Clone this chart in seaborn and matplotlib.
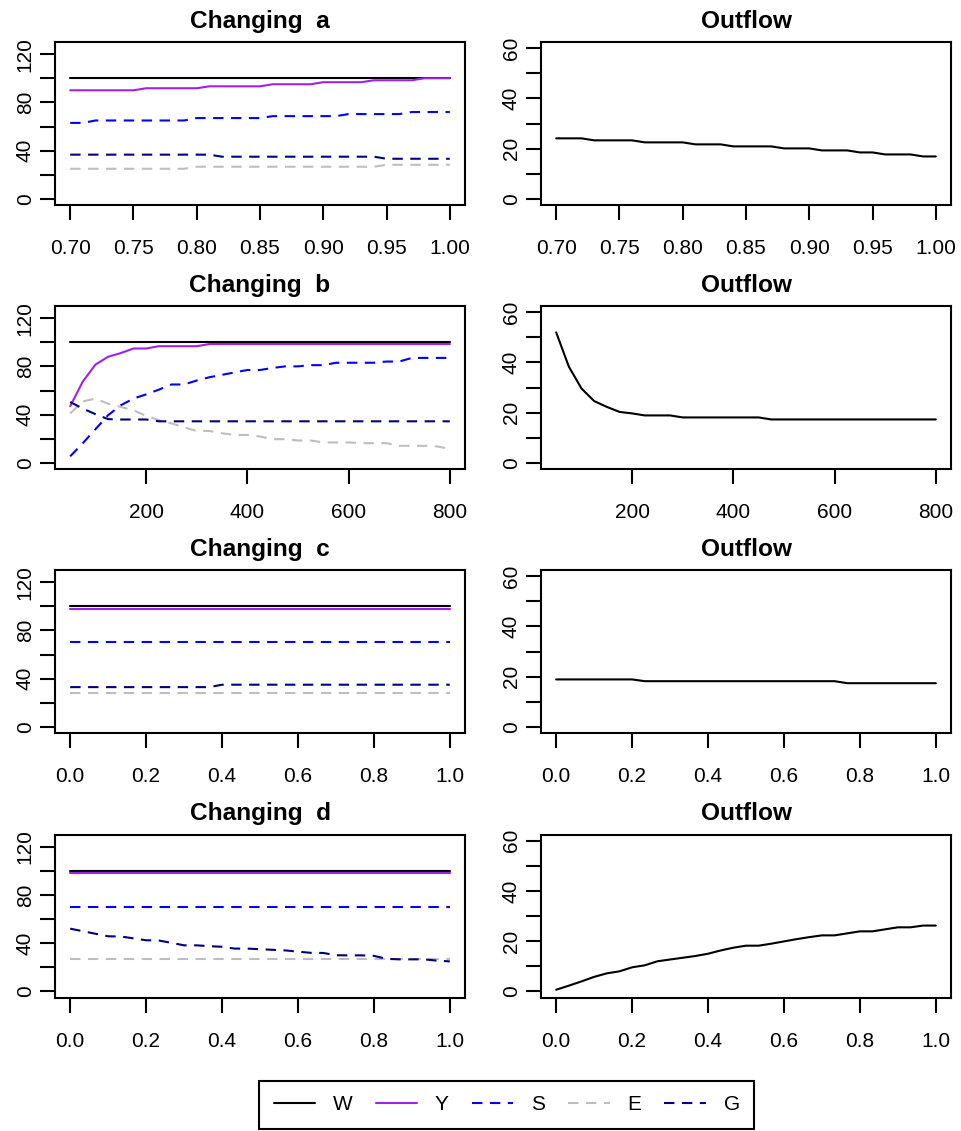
import numpy as np
import matplotlib
matplotlib.use("Agg")
import matplotlib.pyplot as plt
from matplotlib.lines import Line2D
import seaborn as sns

sns.set_style("ticks")
plt.rcParams['font.family'] = ['Liberation Sans', 'DejaVu Sans']
plt.rcParams['text.color'] = 'black'
plt.rcParams['axes.labelcolor'] = 'black'
plt.rcParams['axes.titlecolor'] = 'black'
plt.rcParams['xtick.color'] = 'black'
plt.rcParams['ytick.color'] = 'black'
plt.rcParams['axes.edgecolor'] = 'black'

# ---------------- data ----------------
series_names = ["W", "Y", "S", "E", "G"]
series_colors = ["#000000", "#A020F0", "#0000FF", "#BEBEBE", "#000080"]
series_dashed = [False, False, True, True, True]

panel_titles = ["Changing  a", "Changing  b", "Changing  c", "Changing  d"]
outflow_title = "Outflow"

x_a = [0.70, 0.71, 0.72, 0.73, 0.74, 0.75, 0.76, 0.77, 0.78, 0.79, 0.80,
       0.81, 0.82, 0.83, 0.84, 0.85, 0.86, 0.87, 0.88, 0.89, 0.90,
       0.91, 0.92, 0.93, 0.94, 0.95, 0.96, 0.97, 0.98, 0.99, 1.00]
x_b = [50, 75, 100, 125, 150, 175, 200, 225, 250, 275, 300, 325, 350, 375, 400,
       425, 450, 475, 500, 525, 550, 575, 600, 625, 650, 675, 700, 725, 750, 775, 800]
x_c = np.linspace(0.0, 1.0, 31)
x_d = np.linspace(0.0, 1.0, 31)

# Changing a
W_a = [100] * 31
Y_a = [90] * 6 + [91.7] * 5 + [93.3] * 5 + [95] * 4 + [96.7] * 4 + [98.3] * 4 + [100] * 3
S_a = [63] * 2 + [65] * 8 + [67] * 6 + [68.6] * 6 + [70.3] * 5 + [72] * 4
E_a = [25] * 10 + [26.7] * 15 + [28.3] * 6
G_a = [36.7] * 12 + [35] * 13 + [33.3] * 6
O_a = [24.1] * 3 + [23.3] * 4 + [22.5] * 4 + [21.7] * 3 + [20.9] * 4 + [20.1] * 3 + \
      [19.3] * 3 + [18.5] * 2 + [17.7] * 3 + [16.9] * 2

# Changing b
W_b = [100] * 31
Y_b = [47, 67.5, 81.5, 88, 91, 94.8, 94.8, 96.7, 96.7, 96.7, 96.7] + [98.5] * 20
S_b = [5.5, 16.4, 28, 39.6, 47.8, 53.3, 56.8, 60.7, 65, 65, 68.3, 71, 73, 75, 77, 77,
       78.7, 80, 80, 81, 81, 83, 83, 83, 83, 84, 84, 87, 87, 87, 87]
E_b = [41, 51, 53.3, 49, 46.4, 43.7, 39, 35.5, 32.8, 29.5, 26.5, 26.5, 24.6, 23.2, 23.2,
       21.9, 19.7, 19.7, 18.6, 18.6, 17, 17, 17, 16.4, 16.4, 16.4, 14.2, 14.2, 14.2, 13.7, 11.7]
G_b = [50.5, 45, 40.4, 36.3, 36, 36, 36] + [34.5] * 24
O_b = [51.9, 38.3, 29.6, 24.6, 22.3, 20.3, 19.7, 18.9, 18.9, 18.9] + [18.1] * 7 + [17.3] * 14

# Changing c
W_c = [100] * 31
Y_c = [97.5] * 31
S_c = [70] * 31
E_c = [28] * 31
G_c = [33] * 12 + [35] * 19
O_c = [18.9] * 7 + [18.2] * 16 + [17.4] * 8

# Changing d
W_d = [100] * 31
Y_d = [98.3] * 31
S_d = [70] * 31
E_d = [26.6] * 31
G_d = [52, 49.9, 47.8, 45.7, 45.5, 44, 42.4, 42.2, 40.3, 38.2, 38.2, 37.5, 37, 35.5, 35.5,
       35, 34.5, 34, 33, 32, 31.9, 30, 29.9, 29.9, 29.5, 27, 26.6, 26.6, 26.6, 25.5, 24.9]
O_d = [0.7, 2.3, 4, 5.8, 7.2, 8, 9.6, 10.4, 12, 12.7, 13.4, 14.1, 15, 16.3, 17.4, 18.2,
       18.2, 19, 19.9, 20.8, 21.6, 22.3, 22.3, 23.1, 23.9, 23.9, 24.7, 25.5, 25.5, 26.2, 26.2]

panels = [
    (x_a, [W_a, Y_a, S_a, E_a, G_a], O_a),
    (x_b, [W_b, Y_b, S_b, E_b, G_b], O_b),
    (x_c, [W_c, Y_c, S_c, E_c, G_c], O_c),
    (x_d, [W_d, Y_d, S_d, E_d, G_d], O_d),
]

x_ticks = [[0.70, 0.75, 0.80, 0.85, 0.90, 0.95, 1.00],
           [200, 400, 600, 800],
           [0.0, 0.2, 0.4, 0.6, 0.8, 1.0],
           [0.0, 0.2, 0.4, 0.6, 0.8, 1.0]]
x_ticklabels = [["0.70", "0.75", "0.80", "0.85", "0.90", "0.95", "1.00"],
                ["200", "400", "600", "800"],
                ["0.0", "0.2", "0.4", "0.6", "0.8", "1.0"],
                ["0.0", "0.2", "0.4", "0.6", "0.8", "1.0"]]
x_lims = [(0.688, 1.012), (20, 830), (-0.04, 1.04), (-0.04, 1.04)]

left_yticks = [0, 20, 40, 60, 80, 100, 120]
left_ylabels = ["0", "", "40", "", "80", "", "120"]
right_yticks = [0, 10, 20, 30, 40, 50, 60]
right_ylabels = ["0", "", "20", "", "40", "", "60"]

# ---------------- layout ----------------
FW, FH = 962, 1131
fig = plt.figure(figsize=(FW / 100, FH / 100), dpi=100)

LW = 1.5
DASH = (0, (5.0, 3.6))
TICK_FS = 15
TITLE_FS = 17.6
row_tops = [42, 306, 570, 834.5]
AX_W, AX_H = 410, 163
col_left = [55, 541]


def make_ax(left, top):
    return fig.add_axes([left / FW, 1 - (top + AX_H) / FH, AX_W / FW, AX_H / FH])


def style_ax(ax, xt, xtl, xl, yt, ytl, yl, title):
    ax.set_xlim(*xl)
    ax.set_ylim(*yl)
    ax.set_xticks(xt, xtl)
    ax.set_yticks(yt, ytl, rotation=90, va="center")
    for sp in ax.spines.values():
        sp.set_visible(True)
        sp.set_linewidth(1.5)
        sp.set_color("black")
    ax.tick_params(axis="both", direction="out", length=10.5, width=1.5,
                   labelsize=TICK_FS, colors="black")
    ax.tick_params(axis="x", pad=14)
    ax.tick_params(axis="y", pad=4)
    ax.set_xlabel("")
    ax.set_ylabel("")
    ax.set_title(title, fontsize=TITLE_FS, fontweight="bold", pad=10.4, color="black")
    ax.grid(False)


for r, (xv, ser, outv) in enumerate(panels):
    axl = make_ax(col_left[0], row_tops[r])
    for name, col, dashed, yv in zip(series_names, series_colors, series_dashed, ser):
        sns.lineplot(x=xv, y=yv, ax=axl, color=col, linewidth=LW,
                     linestyle=DASH if dashed else "-", estimator=None,
                     sort=False, legend=False)
    style_ax(axl, x_ticks[r], x_ticklabels[r], x_lims[r], left_yticks, left_ylabels,
             (-5, 130), panel_titles[r])

    axr = make_ax(col_left[1], row_tops[r])
    sns.lineplot(x=xv, y=outv, ax=axr, color="black", linewidth=LW,
                 estimator=None, sort=False, legend=False)
    style_ax(axr, x_ticks[r], x_ticklabels[r], x_lims[r], right_yticks, right_ylabels,
             (-2.4, 62.4), outflow_title)

handles = [Line2D([], [], color=c, linewidth=LW, linestyle=DASH if d else "-")
           for c, d in zip(series_colors, series_dashed)]
leg = fig.legend(handles, series_names, loc="center", ncol=5,
                 bbox_to_anchor=(506.7 / FW, 1 - 1105 / FH),
                 fontsize=TICK_FS, frameon=True, fancybox=False, shadow=False,
                 edgecolor="black", handlelength=2.0, handletextpad=0.85,
                 columnspacing=1.1, borderpad=0.68, borderaxespad=0)
leg.get_frame().set_linewidth(1.5)
leg.get_frame().set_alpha(None)
leg.get_frame().set_facecolor("white")
for t in leg.get_texts():
    t.set_color("black")

fig.savefig("out.png", dpi=100)
